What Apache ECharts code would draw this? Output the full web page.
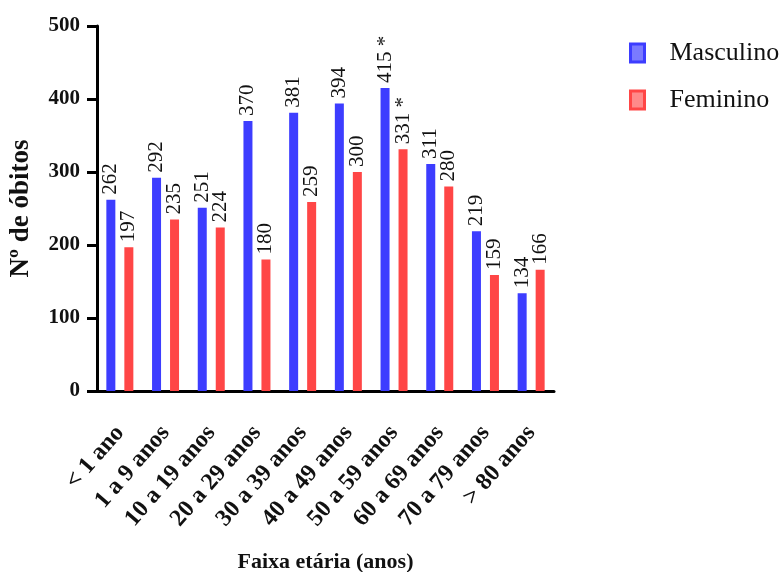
<!DOCTYPE html>
<html>
<head>
<meta charset="utf-8">
<script src="https://cdn.jsdelivr.net/npm/echarts@6/dist/echarts.min.js"></script>
<style>
  html, body { margin: 0; padding: 0; background: #fff; }
  #chart { width: 780px; height: 572px; }
</style>
</head>
<body>
<div id="chart"></div>
<script>
// Óbitos por faixa etária e sexo
const categories = ['< 1 ano', '1 a 9 anos', '10 a 19 anos', '20 a 29 anos', '30 a 39 anos',
  '40 a 49 anos', '50 a 59 anos', '60 a 69 anos', '70 a 79 anos', '> 80 anos'];
const masculino = [262, 292, 251, 370, 381, 394, 415, 311, 219, 134];
const feminino = [197, 235, 224, 180, 259, 300, 331, 280, 159, 166];
// categories flagged with an asterisk next to the value
const flaggedMasculino = ['50 a 59 anos'];
const flaggedFeminino = ['50 a 59 anos'];
const yTicks = { min: 0, max: 500, interval: 100 };

const FONT = 'Liberation Serif';
const BLUE = '#3d3dff';
const RED = '#ff4646';

function labelFor(flags) {
  return function (p) {
    return flags.indexOf(p.name) >= 0 ? p.value + ' *' : String(p.value);
  };
}

const barLabel = (flags) => ({
  show: true,
  position: 'top',
  rotate: 90,
  align: 'left',
  verticalAlign: 'middle',
  distance: 5,
  fontFamily: FONT,
  fontSize: 21,
  color: '#111',
  formatter: labelFor(flags)
});

const chart = echarts.init(document.getElementById('chart'), null, { renderer: 'canvas' });
chart.setOption({
  animation: false,
  backgroundColor: '#fff',
  textStyle: { fontFamily: FONT },
  grid: { left: 97, right: 226, top: 26, bottom: 181, outerBoundsMode: 'none', containLabel: false },
  legend: {
    orient: 'vertical',
    left: 629,
    top: 40,
    padding: 0,
    itemWidth: 14,
    itemHeight: 18,
    itemGap: 21,
    formatter: '{t|{name}}',
    textStyle: {
      fontFamily: FONT,
      fontSize: 26,
      color: '#111',
      rich: { t: { fontFamily: FONT, fontSize: 26, color: '#111', padding: [0, 0, 0, 20] } }
    },
    data: [
      { name: 'Masculino', icon: 'rect',
        itemStyle: { color: '#7a7aff', borderColor: BLUE, borderWidth: 3 } },
      { name: 'Feminino', icon: 'rect',
        itemStyle: { color: '#ff8a8a', borderColor: RED, borderWidth: 3 } }
    ]
  },
  xAxis: {
    type: 'category',
    data: categories,
    boundaryGap: true,
    name: 'Faixa etária (anos)',
    nameLocation: 'middle',
    nameGap: 160,
    nameTextStyle: { fontFamily: FONT, fontSize: 22, fontWeight: 'bold', color: '#111' },
    axisLine: { lineStyle: { color: '#000', width: 3 } },
    axisTick: { alignWithLabel: true, length: 9, lineStyle: { color: '#000', width: 2.5 } },
    axisLabel: {
      rotate: 49,
      margin: 38,
      interval: 0,
      fontFamily: FONT,
      fontSize: 24,
      fontWeight: 'bold',
      color: '#111'
    },
    splitLine: { show: false }
  },
  yAxis: {
    type: 'value',
    min: yTicks.min,
    max: yTicks.max,
    interval: yTicks.interval,
    name: 'Nº de óbitos',
    nameLocation: 'middle',
    nameGap: 62,
    nameTextStyle: { fontFamily: FONT, fontSize: 27, fontWeight: 'bold', color: '#111' },
    axisLine: { show: true, lineStyle: { color: '#000', width: 3 } },
    axisTick: { show: true, length: 10, lineStyle: { color: '#000', width: 3 } },
    axisLabel: { margin: 17, fontFamily: FONT, fontSize: 21, fontWeight: 'bold', color: '#111' },
    splitLine: { show: false }
  },
  series: [
    {
      name: 'Masculino',
      type: 'bar',
      data: masculino,
      barWidth: 9,
      barGap: '100%',
      itemStyle: { color: BLUE },
      label: barLabel(flaggedMasculino)
    },
    {
      name: 'Feminino',
      type: 'bar',
      data: feminino,
      barWidth: 9,
      barGap: '100%',
      itemStyle: { color: RED },
      label: barLabel(flaggedFeminino)
    }
  ]
});
</script>
</body>
</html>
